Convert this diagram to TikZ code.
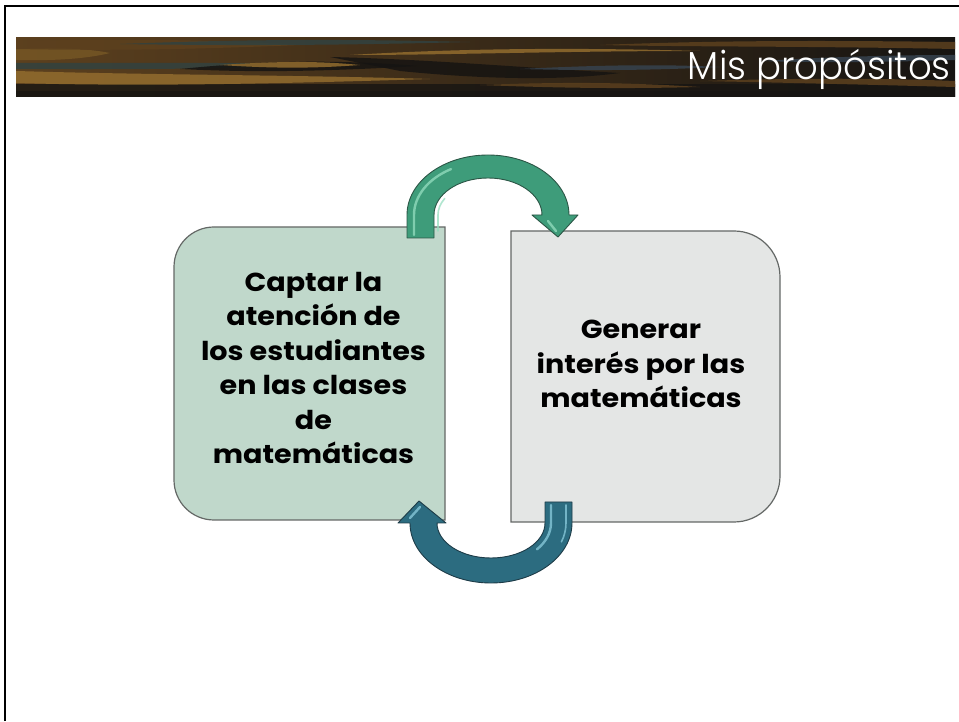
\documentclass[tikz,border=0pt]{standalone}
\usepackage{fontspec}
\setmainfont{Poppins}
\newfontfamily\bodyfont{Poppins}[FakeStretch=1.1]
\IfFontExistsTF{Poppins Light}{\newfontfamily\titlefont{Poppins Light}[FakeStretch=0.95]}{\newfontfamily\titlefont{Poppins}[FakeStretch=0.95]}
\definecolor{leftfill}{RGB}{192,216,203}
\definecolor{rightfill}{RGB}{228,230,229}
\definecolor{boxline}{RGB}{100,104,102}
\definecolor{greenarrow}{RGB}{62,156,122}
\definecolor{greenhi}{RGB}{150,222,192}
\definecolor{greenline}{RGB}{44,86,70}
\definecolor{bluearrow}{RGB}{44,108,128}
\definecolor{bluehi}{RGB}{140,205,222}
\definecolor{blueline}{RGB}{30,60,72}
\definecolor{wdark}{RGB}{22,20,18}
\definecolor{wgold}{RGB}{146,108,46}
\definecolor{wbrown}{RGB}{92,64,30}
\definecolor{wteal}{RGB}{50,66,64}
\definecolor{wblue}{RGB}{54,66,78}
\tikzset{
  boxshape/.style={draw=boxline, line width=1.2pt},
  boxtext/.style={align=center, text=black, font=\bodyfont\bfseries\fontsize{26}{34.5}\selectfont},
  holder/.style={minimum width=#1, inner sep=0pt, outer sep=0pt},
  greenarr/.style={fill=greenarrow, draw=greenline, line width=0.9pt, line join=round},
  bluearr/.style={fill=bluearrow, draw=blueline, line width=0.9pt, line join=round},
  hilite/.style={line width=2.4pt, line cap=round, opacity=0.75},
  streak/.style={opacity=0.85}
}
\begin{document}
\begin{tikzpicture}[x=1pt,y=1pt]
\useasboundingbox (0,0) rectangle (959,721);
\fill[white] (0,0) rectangle (959,721);
% frame
\coordinate (fbl) at (5,0);
\coordinate (ftl) at (5,715);
\coordinate (ftr) at (959,715);
\draw[line width=2.4pt] (fbl) -- (ftl) -- (ftr);
% title band
\begin{scope}
\clip (16,624) rectangle (955,683);
\shade[left color=wbrown, right color=wdark] (16,624) rectangle (955,683);
\shade[left color=wdark!80!wbrown, right color=wdark] (16,624) rectangle (955,636);
\fill[wgold, streak] (16,638) .. controls (150,634) and (300,638) .. (430,642) .. controls (300,646) and (150,646) .. (16,650) -- cycle;
\fill[wteal, streak] (16,652) .. controls (150,651) and (250,653) .. (340,656) .. controls (250,659) and (120,658) .. (16,658) -- cycle;
\fill[wgold!80!black, streak] (16,661) .. controls (60,660) and (90,663) .. (110,668) .. controls (80,674) and (40,673) .. (16,672) -- cycle;
\fill[wbrown, streak] (16,672) .. controls (120,670) and (200,672) .. (300,676) .. controls (200,682) and (120,682) .. (16,680) -- cycle;
\fill[wdark, streak] (180,652) .. controls (260,648) and (330,650) .. (420,655) .. controls (330,662) and (260,660) .. (180,652) -- cycle;
\fill[wgold, streak] (220,656) .. controls (280,652) and (320,653) .. (360,656) .. controls (320,660) and (280,660) .. (220,656) -- cycle;
\fill[wdark, streak] (330,664) .. controls (420,662) and (500,655) .. (620,648) .. controls (560,640) and (480,642) .. (400,650) .. controls (370,656) and (345,661) .. (330,664) -- cycle;
\fill[wgold, streak] (350,666) .. controls (450,666) and (560,670) .. (700,670) .. controls (560,674) and (450,672) .. (350,666) -- cycle;
\fill[wteal, streak] (120,677) .. controls (250,675) and (350,676) .. (470,679) .. controls (350,682) and (250,682) .. (120,677) -- cycle;
\fill[wbrown, streak] (480,636) .. controls (560,633) and (620,632) .. (700,634) .. controls (620,639) and (560,639) .. (480,636) -- cycle;
\fill[wblue, streak] (520,652) .. controls (600,650) and (660,651) .. (720,654) .. controls (660,657) and (600,656) .. (520,652) -- cycle;
\fill[wbrown, streak] (600,676) .. controls (700,674) and (800,675) .. (955,672) -- (955,679) .. controls (800,681) and (700,680) .. (600,676) -- cycle;
\fill[wblue, streak] (760,660) .. controls (830,658) and (890,659) .. (955,661) -- (955,666) .. controls (890,666) and (830,664) .. (760,660) -- cycle;
\fill[wbrown, streak] (700,640) .. controls (800,638) and (880,636) .. (955,634) -- (955,640) .. controls (880,643) and (800,643) .. (700,640) -- cycle;
\fill[wdark, opacity=0.6] (16,624) rectangle (955,630);
\end{scope}
\node[anchor=base east, text=white, font=\titlefont\fontsize{39}{39}\selectfont, inner sep=0pt] (title) at (951,641) {Mis propósitos};
% box holders
\node[holder=271pt, minimum height=293pt] (lbox) at (309.5,347.5) {};
\node[holder=269pt, minimum height=291pt] (rbox) at (645.5,344.5) {};
% left box: rounded on the left
\draw[boxshape, fill=leftfill] (lbox.north east) -- ([xshift=40pt]lbox.north west)
  arc[start angle=90, end angle=180, radius=40pt] -- ([yshift=40pt]lbox.south west)
  arc[start angle=180, end angle=270, radius=40pt] -- (lbox.south east) -- cycle;
% right box: rounded on the right
\draw[boxshape, fill=rightfill] (rbox.north west) -- ([xshift=-46pt]rbox.north east)
  arc[start angle=90, end angle=0, radius=46pt] -- ([yshift=46pt]rbox.south east)
  arc[start angle=0, end angle=-90, radius=46pt] -- (rbox.south west) -- cycle;
% texts
\node[boxtext] (ltext) at (313.5,353) {Captar la\\atención de\\los estudiantes\\en las clases\\de\\matemáticas};
\node[boxtext] (rtext) at (641,357) {Generar\\interés por las\\matemáticas};
% top arrow (left box -> right box)
\coordinate (tc) at (488,506);
\draw[greenarr] (407,483) -- (407,506)
  arc[start angle=180, end angle=0, x radius=81pt, y radius=60pt]
  -- (578,506) -- (558,484) -- (532,506) -- (542,506)
  arc[start angle=0, end angle=180, x radius=54pt, y radius=37pt]
  -- (434,483) -- cycle;
\draw[greenhi, hilite] (414,486) -- (414,506)
  arc[start angle=180, end angle=120, x radius=74pt, y radius=53pt];
\draw[greenhi, hilite, line width=1.6pt] (438,490) -- (438,506)
  arc[start angle=180, end angle=150, x radius=50pt, y radius=33pt];
\draw[greenhi, hilite] (548,500) -- (556,490);
% bottom arrow (right box -> left box)
\coordinate (bc) at (491,198);
\draw[bluearr] (572,219) -- (572,198)
  arc[start angle=0, end angle=-180, x radius=81pt, y radius=60pt]
  -- (398,198) -- (419,220) -- (446,198) -- (437,198)
  arc[start angle=180, end angle=360, x radius=54pt, y radius=35pt]
  -- (545,219) -- cycle;
\draw[bluehi, hilite] (551,216) -- (551,198)
  arc[start angle=0, end angle=-40, x radius=60pt, y radius=41pt];
\draw[bluehi, hilite, line width=1.6pt] (566,216) -- (566,198)
  arc[start angle=0, end angle=-20, x radius=75pt, y radius=55pt];
\draw[bluehi, hilite] (410,203) -- (420,214);
\end{tikzpicture}
\end{document}
